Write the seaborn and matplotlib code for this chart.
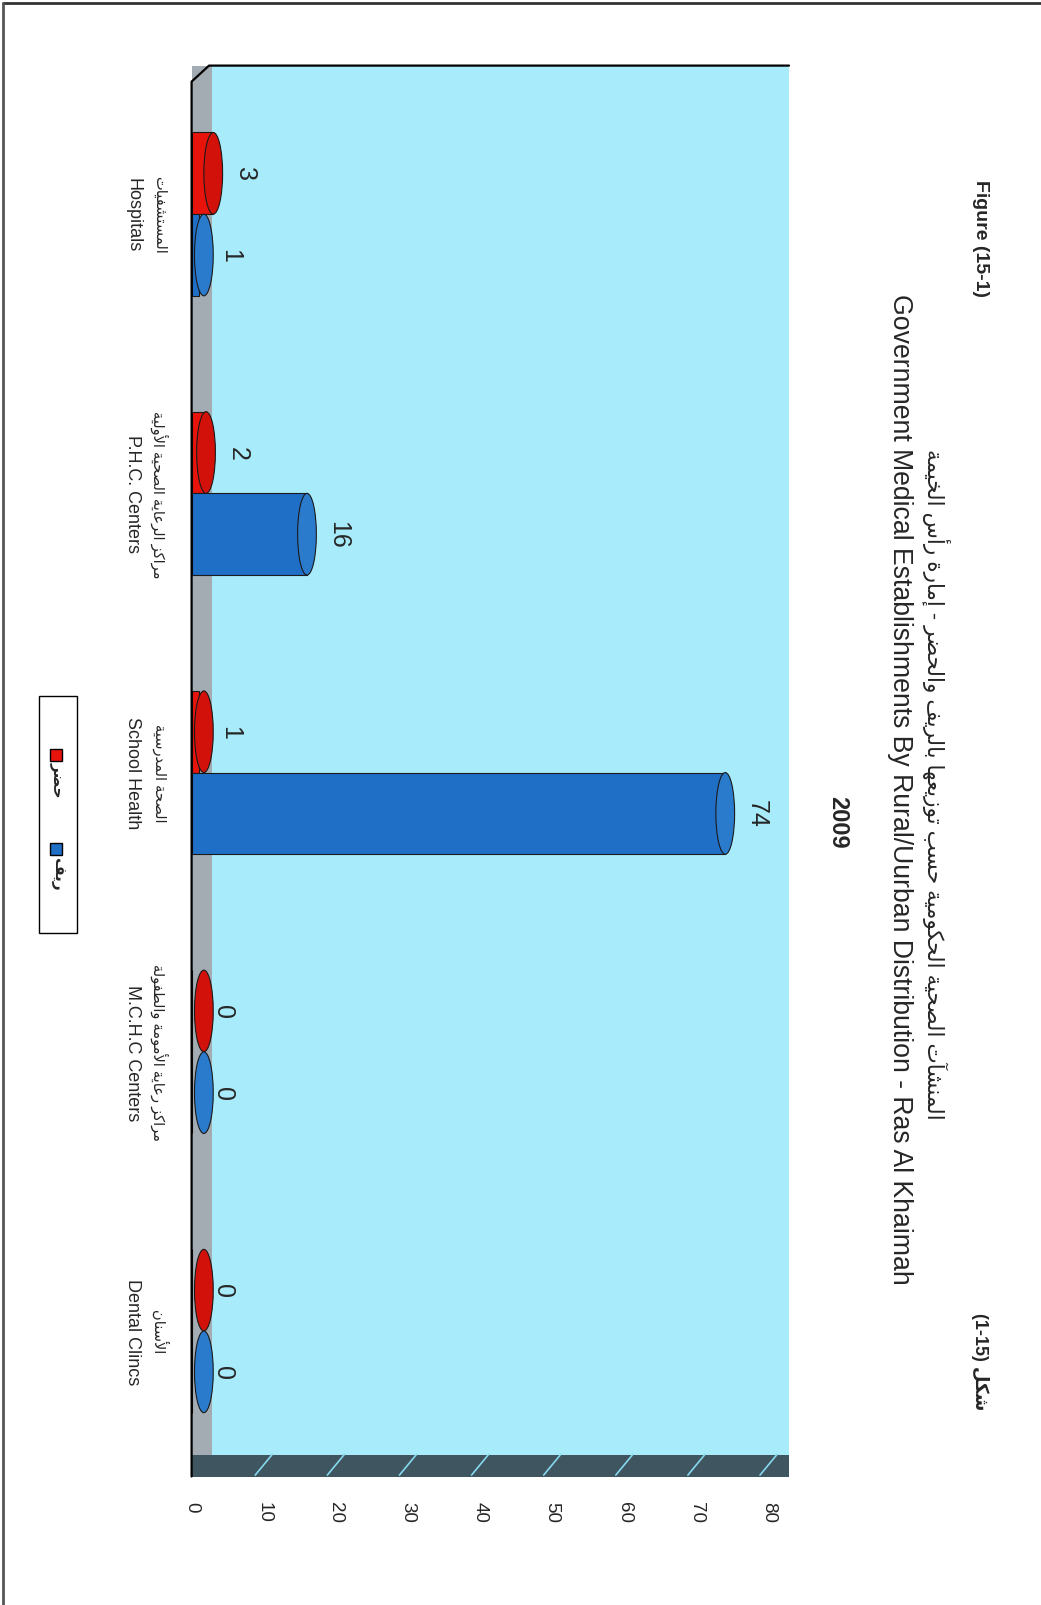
import numpy as np
import pandas as pd
import matplotlib
matplotlib.use('Agg')
import matplotlib.pyplot as plt
from matplotlib.patches import Rectangle, Ellipse
from matplotlib.lines import Line2D
import matplotlib.transforms as mtransforms
import seaborn as sns

#%% data
categories_en = ['Hospitals', 'P.H.C. Centers', 'School Health', 'M.C.H.C Centers', 'Dental Clincs']
categories_ar = ['المستشفيات', 'مراكز الرعاية الصحية الأولية', 'الصحة المدرسية',
                 'مراكز رعاية الأمومة والطفولة', 'الأسنان']
urban = [3, 2, 1, 0, 0]     # حضر
rural = [1, 16, 74, 0, 0]   # ريف
series_ar = ['حضر', 'ريف']
value_ticks = [0, 10, 20, 30, 40, 50, 60, 70, 80]

title_ar = 'المنشآت الصحية الحكومية حسب توزيعها بالريف والحضر - إمارة رأس الخيمة'
title_en = 'Government Medical Establishments By Rural/Uurban Distribution - Ras Al Khaimah'
year = '2009'

#%% small arabic shaper (matplotlib has no shaping of its own)
AR_FORMS = {
    'ء': (0xFE80, 1), 'آ': (0xFE81, 2), 'أ': (0xFE83, 2), 'ؤ': (0xFE85, 2), 'إ': (0xFE87, 2),
    'ئ': (0xFE89, 4), 'ا': (0xFE8D, 2), 'ب': (0xFE8F, 4), 'ة': (0xFE93, 2), 'ت': (0xFE95, 4),
    'ث': (0xFE99, 4), 'ج': (0xFE9D, 4), 'ح': (0xFEA1, 4), 'خ': (0xFEA5, 4), 'د': (0xFEA9, 2),
    'ذ': (0xFEAB, 2), 'ر': (0xFEAD, 2), 'ز': (0xFEAF, 2), 'س': (0xFEB1, 4), 'ش': (0xFEB5, 4),
    'ص': (0xFEB9, 4), 'ض': (0xFEBD, 4), 'ط': (0xFEC1, 4), 'ظ': (0xFEC5, 4), 'ع': (0xFEC9, 4),
    'غ': (0xFECD, 4), 'ف': (0xFED1, 4), 'ق': (0xFED5, 4), 'ك': (0xFED9, 4), 'ل': (0xFEDD, 4),
    'م': (0xFEE1, 4), 'ن': (0xFEE5, 4), 'ه': (0xFEE9, 4), 'و': (0xFEED, 2), 'ى': (0xFEEF, 2),
    'ي': (0xFEF1, 4),
}
LAM_ALEF = {'آ': 0xFEF5, 'أ': 0xFEF7, 'إ': 0xFEF9, 'ا': 0xFEFB}


def shape_ar(text):
    out = []
    i = 0
    prev_joins = False
    while i < len(text):
        c = text[i]
        if c not in AR_FORMS:
            out.append(c)
            prev_joins = False
            i += 1
            continue
        if c == 'ل' and i + 1 < len(text) and text[i + 1] in LAM_ALEF:
            out.append(chr(LAM_ALEF[text[i + 1]] + (1 if prev_joins else 0)))
            prev_joins = False
            i += 2
            continue
        base, n = AR_FORMS[c]
        nxt = text[i + 1] if i + 1 < len(text) else None
        next_joins = n == 4 and nxt in AR_FORMS and nxt != 'ء'
        if prev_joins and next_joins:
            code = base + 3
        elif prev_joins:
            code = base + 1
        elif next_joins:
            code = base + 2
        else:
            code = base
        out.append(chr(code))
        prev_joins = next_joins
        i += 1
    return ''.join(reversed(out))


#%% figure
W, H = 1041, 1606
sns.set_style('white')
plt.rcParams['font.family'] = ['Liberation Sans', 'DejaVu Sans']

fig = plt.figure(figsize=(W / 100, H / 100), dpi=100)


def px(x, y):
    return x / W, 1 - y / H


# axes box in pixels (chart is drawn turned a quarter turn clockwise)
left, right, top, bottom = 191.6, 789, 66.6, 1477.5
ax = fig.add_axes([left / W, 1 - bottom / H, (right - left) / W, (bottom - top) / H])
ax.set_facecolor('#a8ebfb')

df = pd.DataFrame({
    'cat': categories_en * 2,
    'value': urban + rural,
    'series': [series_ar[0]] * len(urban) + [series_ar[1]] * len(rural),
})
red, blue = '#e8140c', '#1f6fc6'
sns.barplot(data=df, x='value', y='cat', hue='series', orient='h', ax=ax,
            palette=[red, blue], saturation=1, width=0.585, edgecolor='#1a1a1a',
            linewidth=0.8, legend=False, zorder=3)

# cylinder end caps
cap_w = 2.6
for cont, col in zip(ax.containers, ['#d2120a', '#2b7bcd']):
    for p in cont:
        xe = max(p.get_x() + p.get_width(), cap_w / 2 + 0.4)
        ax.add_patch(Ellipse((xe, p.get_y() + p.get_height() / 2),
                             cap_w, p.get_height(), facecolor=col, edgecolor='#1a1a1a',
                             linewidth=0.8, zorder=4))
    ax.bar_label(cont, padding=14, rotation=-90, fontsize=18, zorder=5)

ax.set_xlim(0, 80 * (right - left) / (768.5 - left))
ax.set_ylim(4.521, -0.532)
ax.set_xticks(value_ticks)
ax.set_xticklabels([str(v) for v in value_ticks], rotation=-90, fontsize=13.5)
ax.tick_params(axis='x', length=0, pad=18)
ax.set_yticks([])
ax.set_xlabel('')
ax.set_ylabel('')
for s in ax.spines.values():
    s.set_visible(False)

# grey floor and dark front edge of the 3d box
floor_w = 20.5 / (right - left)
strip_h = 22 / (bottom - top)
ax.add_patch(Rectangle((0, 0), floor_w, 1, transform=ax.transAxes,
                       facecolor='#a3acb2', edgecolor='none', zorder=1))
ax.add_patch(Rectangle((0, 0), 1, strip_h, transform=ax.transAxes,
                       facecolor='#3f5560', edgecolor='none', zorder=2))
blend = mtransforms.blended_transform_factory(ax.transData, ax.transAxes)
dx = 17 / (right - left) * ax.get_xlim()[1]
for v in value_ticks[1:]:
    ax.add_line(Line2D([v - dx / 2, v + dx / 2], [0.001, strip_h], transform=blend,
                       color='#86d8ee', linewidth=1.2, zorder=2.5))

# box outline: left edge, corner bevel and top edge
bev = 16 / (bottom - top)
ax.add_line(Line2D([0, 0, floor_w * 0.85, 1], [0, 1 - bev, 1, 1], transform=ax.transAxes,
                   color='black', linewidth=1.6, clip_on=False, zorder=6))

# category labels
for i, (en, ar) in enumerate(zip(categories_en, categories_ar)):
    yc = top + (i + 0.532) * (bottom - top) / 5.053
    fig.text(*px(159, yc), shape_ar(ar), rotation=-90, ha='center', va='center', fontsize=10.5)
    fig.text(*px(133, yc), en, rotation=-90, ha='center', va='center', fontsize=13)

# titles
fig.text(*px(980, 238), 'Figure (15-1)', rotation=-90, ha='center', va='center',
         fontsize=14, fontweight='bold')
fig.text(*px(980, 1362), '(1-15) ' + shape_ar('شكل'), rotation=-90, ha='center', va='center',
         fontsize=13, fontweight='bold')
fig.text(*px(936, 784), shape_ar(title_ar), rotation=-90, ha='center', va='center', fontsize=15.5)
fig.text(*px(900, 789), title_en, rotation=-90, ha='center', va='center', fontsize=19.2)
fig.text(*px(838, 822), year, rotation=-90, ha='center', va='center', fontsize=17,
         fontweight='bold')

# legend
fig.patches.append(Rectangle(px(39, 934), 38 / W, 237 / H, transform=fig.transFigure,
                             facecolor='white', edgecolor='black', linewidth=1))
for yy, col, lab in [(756, red, series_ar[0]), (850, blue, series_ar[1])]:
    fig.patches.append(Rectangle(px(50, yy + 6), 12 / W, 12 / H, transform=fig.transFigure,
                                 facecolor=col, edgecolor='black', linewidth=1))
    fig.text(*px(57, yy + 24), shape_ar(lab), rotation=-90, ha='center', va='center',
             fontsize=11, fontweight='bold')

# outer frame (top and left edges)
fig.add_artist(Line2D([3 / W, 1], [1 - 4 / H, 1 - 4 / H], transform=fig.transFigure,
                      color='#333333', linewidth=2))
fig.add_artist(Line2D([3 / W, 3 / W], [0, 1 - 4 / H], transform=fig.transFigure,
                      color='#555555', linewidth=2))

fig.savefig('out.png', dpi=100)
